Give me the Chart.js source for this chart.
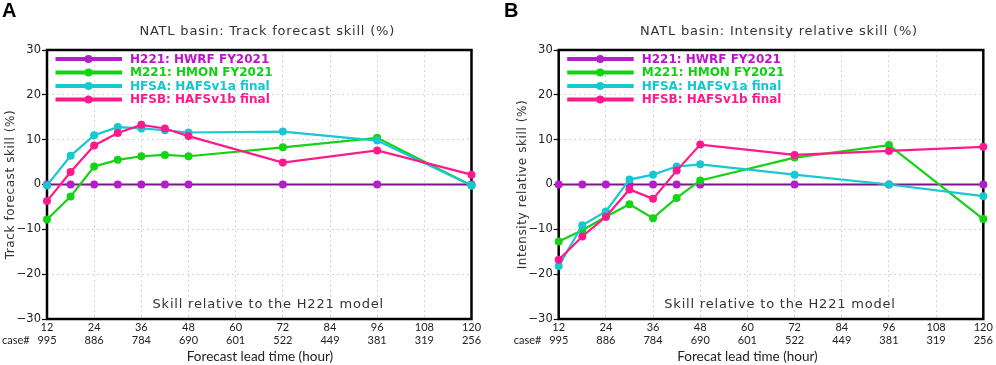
<!DOCTYPE html>
<html><head><meta charset="utf-8">
<script src="https://cdn.jsdelivr.net/npm/chart.js@4.4.1/dist/chart.umd.min.js"></script>
<style>
html,body{margin:0;padding:0;background:#fff;}
#wrap{position:relative;width:996px;height:365px;overflow:hidden;background:#fff;}
canvas{position:absolute;top:0;}
</style>
</head><body>
<div id="wrap">
<canvas id="cA" width="498" height="365" style="left:0"></canvas>
<canvas id="cB" width="498" height="365" style="left:498px"></canvas>
</div>
<script>
// ---- data ----
const hours = [12, 18, 24, 30, 36, 42, 48, 72, 96, 120];
const tickHours = [12, 24, 36, 48, 60, 72, 84, 96, 108, 120];
const caseCounts = [995, 886, 784, 690, 601, 522, 449, 381, 319, 256];
const yTicks = [-30, -20, -10, 0, 10, 20, 30];
const seriesNames = ['H221: HWRF FY2021', 'M221: HMON FY2021', 'HFSA: HAFSv1a final', 'HFSB: HAFSv1b final'];

const trackH221 = [0, 0, 0, 0, 0, 0, 0, 0, 0, 0];
const trackM221 = [-7.8, -2.7, 4.0, 5.5, 6.3, 6.6, 6.3, 8.3, 10.4, -0.2];
const trackHFSA = [-0.2, 6.4, 11.0, 12.8, 12.5, 12.1, 11.6, 11.8, 9.8, -0.2];
const trackHFSB = [-3.7, 2.8, 8.7, 11.5, 13.3, 12.5, 10.8, 4.9, 7.6, 2.2];

const intH221 = [0, 0, 0, 0, 0, 0, 0, 0, 0, 0];
const intM221 = [-12.7, -10.2, -7.2, -4.4, -7.5, -3.0, 0.9, 6.0, 8.8, -7.7];
const intHFSA = [-18.2, -9.1, -6.0, 1.1, 2.2, 4.0, 4.5, 2.2, 0.0, -2.6];
const intHFSB = [-16.8, -11.6, -7.2, -1.1, -3.2, 3.1, 8.9, 6.6, 7.5, 8.4];

// ---- styles ----
const lineColors = ['#7a1488', '#14d214', '#18c8d0', '#ff1a8c'];
const markColors = ['#b41ccc', '#14d214', '#18c8d0', '#ff1a8c'];
const textColors = ['#c010d0', '#10d010', '#10c8d0', '#ff1a8c'];

function pts(arr) { return hours.map((h, i) => ({x: h, y: arr[i]})); }

const decoPlugin = {
  id: 'deco',
  beforeDatasetsDraw(chart) {
    const a = chart.chartArea, ctx = chart.ctx;
    ctx.save();
    ctx.strokeStyle = '#000';
    ctx.lineWidth = 2.5;
    ctx.strokeRect(a.left, a.top, a.right - a.left, a.bottom - a.top);
    ctx.restore();
  },
  afterDraw(chart) {
    const o = chart.options.plugins.deco;
    const a = chart.chartArea, ctx = chart.ctx;
    const cx = (a.left + a.right) / 2;
    ctx.save();
    // panel letter
    ctx.fillStyle = '#000';
    ctx.font = "bold 20px 'Liberation Sans'";
    ctx.textBaseline = 'alphabetic';
    ctx.textAlign = 'left';
    ctx.fillText(o.letter, o.letterX, 17);
    // title
    ctx.font = "13px 'DejaVu Sans'";
    ctx.fillStyle = '#333';
    ctx.letterSpacing = '0.8px';
    ctx.textAlign = 'center';
    ctx.textBaseline = 'middle';
    ctx.fillText(o.title, cx + 8, 32);
    // inner note
    ctx.fillText('Skill relative to the H221 model', cx + 9, a.bottom - 14);
    // y title
    ctx.save();
    ctx.translate(a.left - 36, (a.top + a.bottom) / 2);
    ctx.rotate(-Math.PI / 2);
    ctx.font = "12px 'DejaVu Sans'";
    ctx.letterSpacing = '0.6px';
    ctx.fillText(o.yTitle, 0, 0);
    ctx.restore();
    // legend
    ctx.letterSpacing = '0px';
    ctx.font = "bold 12px 'DejaVu Sans'";
    ctx.textAlign = 'left';
    for (let i = 0; i < seriesNames.length; i++) {
      const y = a.top + 9 + i * 13.5;
      ctx.strokeStyle = markColors[i];
      ctx.lineWidth = 4;
      ctx.beginPath();
      ctx.moveTo(a.left + 8.5, y);
      ctx.lineTo(a.left + 75, y);
      ctx.stroke();
      ctx.fillStyle = markColors[i];
      ctx.beginPath();
      ctx.arc(a.left + 41.5, y, 4, 0, Math.PI * 2);
      ctx.fill();
      ctx.fillStyle = textColors[i];
      ctx.fillText(seriesNames[i], a.left + 83, y + 0.5);
    }
    // case# label
    ctx.fillStyle = '#222';
    ctx.font = "11px Lato";
    ctx.textAlign = 'left';
    ctx.fillText('case#', a.left - 45, 340);
    // x title
    ctx.font = "13.5px Lato";
    ctx.textAlign = 'center';
    ctx.fillText(o.xTitle, o.xTitleX, 356.5);
    ctx.restore();
  }
};

function makeChart(id, series, o) {
  const datasets = [3, 2, 1, 0].map(i => ({
    label: seriesNames[i],
    data: pts(series[i]),
    borderColor: lineColors[i],
    backgroundColor: markColors[i],
    pointBackgroundColor: markColors[i],
    pointBorderWidth: 0,
    pointRadius: 4,
    borderWidth: 2.2,
    tension: 0,
    clip: false
  }));
  return new Chart(document.getElementById(id), {
    type: 'line',
    data: {datasets},
    plugins: [decoPlugin],
    options: {
      responsive: false,
      animation: false,
      devicePixelRatio: 1,
      layout: {padding: {top: 50, right: o.padRight, left: 0, bottom: 0}},
      plugins: {
        legend: {display: false},
        tooltip: {enabled: false},
        title: {display: false},
        deco: o
      },
      scales: {
        x: {
          type: 'linear', min: 12, max: 120,
          afterBuildTicks: s => { s.ticks = tickHours.map(v => ({value: v})); },
          afterFit: s => { s.height = 46; },
          grid: {color: '#d4d4d4', lineWidth: 1, drawTicks: false},
          border: {display: false, dash: [2, 3]},
          ticks: {
            padding: 1.5,
            color: '#222',
            maxRotation: 0,
            font: {family: 'Lato', size: 11, lineHeight: 1.2},
            callback: (v) => [String(v), String(caseCounts[tickHours.indexOf(v)])]
          }
        },
        y: {
          min: -30, max: 30,
          afterBuildTicks: s => { s.ticks = yTicks.map(v => ({value: v})); },
          afterFit: s => { s.width = o.yWidth; },
          grid: {color: '#d4d4d4', lineWidth: 1, drawTicks: true, tickLength: 5, tickColor: '#000', tickWidth: 1.2, tickBorderDash: []},
          border: {display: false, dash: [2, 3]},
          ticks: {
            padding: 1,
            color: '#222',
            font: {family: 'DejaVu Sans', size: 11.5},
            callback: v => v < 0 ? '\u2212' + (-v) : String(v)
          }
        }
      }
    }
  });
}

makeChart('cA', [trackH221, trackM221, trackHFSA, trackHFSB], {
  letter: 'A', letterX: 2, title: 'NATL basin: Track forecast skill (%)',
  yTitle: 'Track forecast skill (%)', xTitle: 'Forecast lead time (hour)', xTitleX: 260,
  padRight: 26.5, yWidth: 47
});
makeChart('cB', [intH221, intM221, intHFSA, intHFSB], {
  letter: 'B', letterX: 6, title: 'NATL basin: Intensity relative skill (%)',
  yTitle: 'Intensity relative skill (%)', xTitle: 'Forecat lead time (hour)', xTitleX: 249.5,
  padRight: 12.7, yWidth: 60.7
});
</script>
</body></html>
